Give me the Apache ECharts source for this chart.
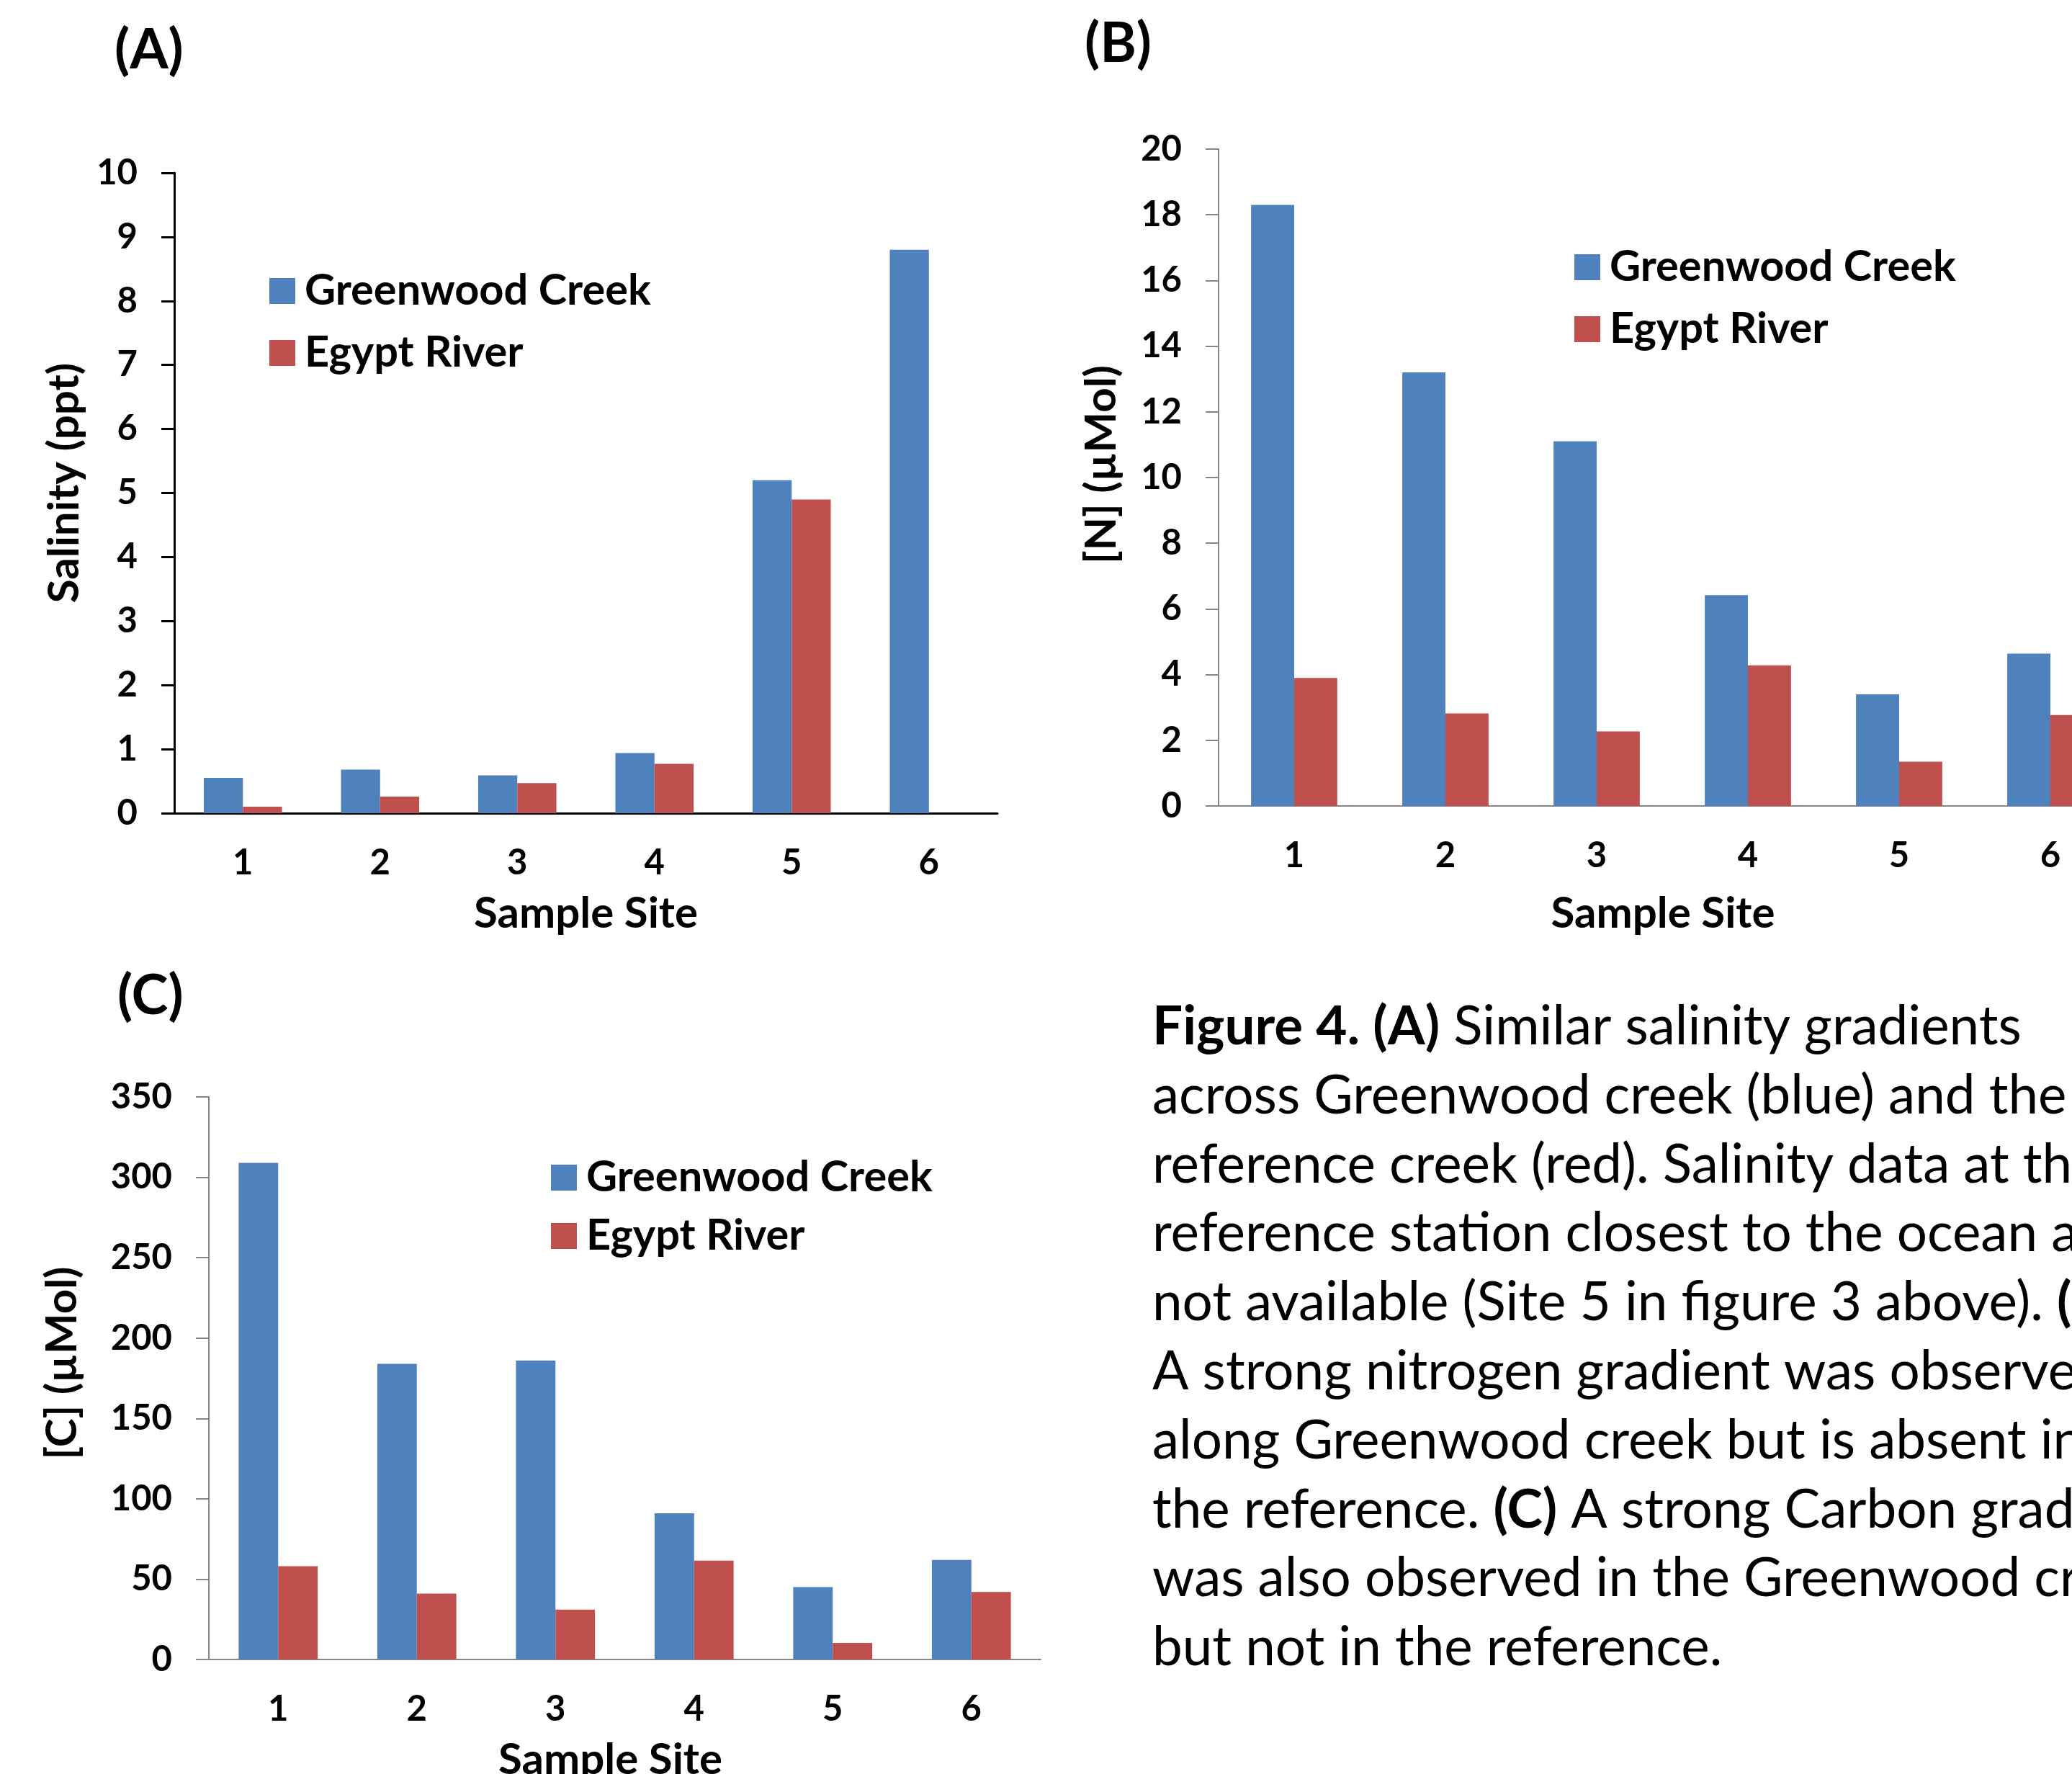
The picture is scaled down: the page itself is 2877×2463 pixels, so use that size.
<!DOCTYPE html>
<html><head><meta charset="utf-8">
<script src="https://cdn.jsdelivr.net/npm/echarts@6/dist/echarts.min.js"></script>
<style>html,body{margin:0;padding:0;overflow:hidden;background:#fff;width:2877px;height:2463px}#c{width:3000px;height:2463px}</style>
</head><body><div id="c"></div>
<script>
// ---- data ----
const sites = ['1', '2', '3', '4', '5', '6'];
const seriesNames = ['Greenwood Creek', 'Egypt River'];
const salinityGreenwood = [0.55, 0.68, 0.59, 0.94, 5.2, 8.8];
const salinityEgypt = [0.10, 0.26, 0.47, 0.77, 4.9, null];
const nitrogenGreenwood = [18.3, 13.2, 11.1, 6.42, 3.4, 4.64];
const nitrogenEgypt = [3.9, 2.82, 2.27, 4.28, 1.35, 2.77];
const carbonGreenwood = [309, 184, 186, 91, 45, 62];
const carbonEgypt = [58, 41, 31, 61.5, 10.3, 42];
const panelLabels = ['(A)', '(B)', '(C)'];
const yTitles = ['Salinity (ppt)', '[N] (µMol)', '[C] (µMol)'];
const xTitle = 'Sample Site';
const yMax = [10, 20, 350];
const yInterval = [1, 2, 50];
const captionLines = [
  '{b|Figure 4. (A)} Similar salinity gradients',
  'across Greenwood creek (blue) and the',
  'reference creek (red). Salinity data at the',
  'reference station closest to the ocean are',
  'not available (Site 5 in figure 3 above). {b|(B)}',
  'A strong nitrogen gradient was observed',
  'along Greenwood creek but is absent in',
  'the reference. {b|(C)} A strong Carbon gradient',
  'was also observed in the Greenwood creek',
  'but not in the reference.'
];

// ---- style ----
const FONT = 'Lato';
const BLUE = '#4F81BD', RED = '#C0504D';
const axisColors = ['#000000', '#868686', '#868686'];
const axisWidths = [3, 2, 2];
const grids = [
  {left: 242, top: 240, width: 1143, height: 889, outerBoundsMode: 'none', containLabel: false},
  {left: 1692, top: 207, width: 1260, height: 912, outerBoundsMode: 'none', containLabel: false},
  {left: 290, top: 1523, width: 1155, height: 781, outerBoundsMode: 'none', containLabel: false}
];
const tickFont = 49, titleFont = 60, legendFont = 59.5;
const yNameGap = [152, 162, 203];
const yNamePad = [28, 36, 42];
const xNameGap = [140, 150, 140];
const xNamePad = [0, 26, 40];
const legendPos = [
  {left: 369, top: 369, gap: 26},
  {left: 2181, top: 336, gap: 26},
  {left: 760, top: 1600, gap: 21}
];
const labelPos = [[159, 70], [1506, 61], [163, 1383]];

const valuesG = [salinityGreenwood, nitrogenGreenwood, carbonGreenwood];
const valuesE = [salinityEgypt, nitrogenEgypt, carbonEgypt];

const xAxis = [], yAxis = [], series = [], legend = [], graphic = [];
for (let i = 0; i < 3; i++) {
  const line = {color: axisColors[i], width: axisWidths[i]};
  xAxis.push({
    type: 'category', gridIndex: i, data: sites,
    axisLine: {lineStyle: line}, axisTick: {length: 17, lineStyle: line},
    axisLabel: {fontFamily: FONT, fontSize: tickFont, fontWeight: 'bold', color: '#000', margin: 69, verticalAlign: 'middle'},
    name: xTitle, nameLocation: 'middle', nameGap: xNameGap[i],
    nameTextStyle: {fontFamily: FONT, fontSize: titleFont, fontWeight: 'bold', color: '#000', verticalAlign: 'middle', padding: [0, xNamePad[i], 0, 0]}
  });
  yAxis.push({
    type: 'value', gridIndex: i, min: 0, max: yMax[i], interval: yInterval[i],
    axisLine: {show: true, lineStyle: line}, axisTick: {show: true, length: 18, lineStyle: line},
    splitLine: {show: false},
    axisLabel: {fontFamily: FONT, fontSize: tickFont, fontWeight: 'bold', color: '#000', margin: 51},
    name: yTitles[i], nameLocation: 'middle', nameGap: yNameGap[i],
    nameTextStyle: {fontFamily: FONT, fontSize: titleFont, fontWeight: 'bold', color: '#000', verticalAlign: 'middle', padding: [0, 0, 0, yNamePad[i]]}
  });
  series.push({
    type: 'bar', name: seriesNames[0], xAxisIndex: i, yAxisIndex: i, data: valuesG[i],
    itemStyle: {color: BLUE}, barGap: '0%', barCategoryGap: '43%'
  });
  series.push({
    type: 'bar', name: seriesNames[1], xAxisIndex: i, yAxisIndex: i, data: valuesE[i],
    itemStyle: {color: RED}, barGap: '0%', barCategoryGap: '43%'
  });
  legend.push({
    data: seriesNames, orient: 'vertical', left: legendPos[i].left, top: legendPos[i].top,
    itemWidth: 36, itemHeight: 36, itemGap: legendPos[i].gap, icon: 'rect', selectedMode: false,
    textStyle: {fontFamily: FONT, fontSize: legendFont, fontWeight: 'bold', color: '#000', lineHeight: 60, padding: [0, 0, 0, 8]}
  });
  graphic.push({
    type: 'text', x: labelPos[i][0], y: labelPos[i][1],
    style: {text: panelLabels[i], fontFamily: FONT, fontSize: 77, fontWeight: 'bold', fill: '#000', verticalAlign: 'middle', align: 'left'}
  });
}
const capSize = 74.6;
captionLines.forEach((t, k) => {
  const baseline = 1453.6 + 95.8 * k;
  graphic.push({
    type: 'text', x: 1600, y: baseline - 0.37 * capSize,
    style: {
      text: t, fontFamily: FONT, fontSize: capSize, fill: '#000', verticalAlign: 'middle', align: 'left',
      rich: {b: {fontFamily: FONT, fontSize: capSize, fontWeight: 'bold', fill: '#000'}}
    }
  });
});

const chart = echarts.init(document.getElementById('c'), null, {renderer: 'canvas'});
chart.setOption({
  animation: false, backgroundColor: '#fff',
  grid: grids, xAxis, yAxis, series, legend, graphic
});
</script></body></html>
